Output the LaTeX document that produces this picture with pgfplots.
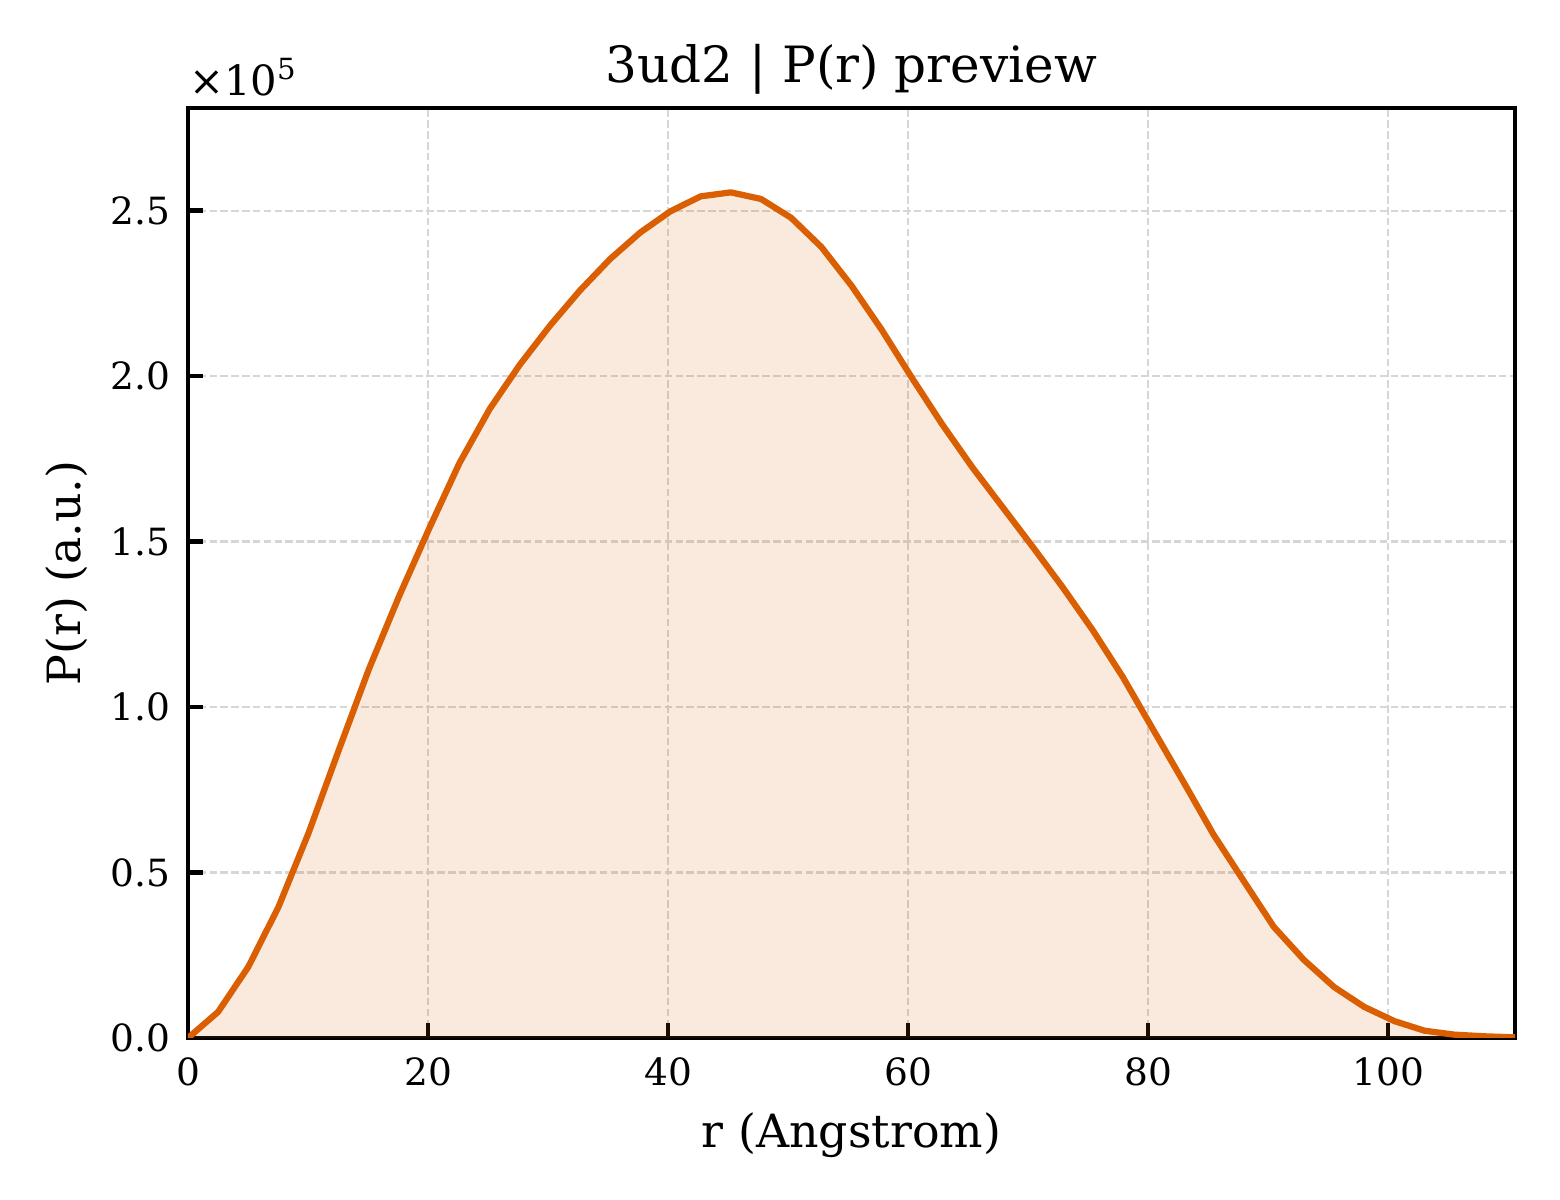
\documentclass[border=0pt]{standalone}
\usepackage{fontspec}
\setmainfont{DejaVu Serif}
\usepackage{pgfplots}
\usepackage{pgfplotstable}
\pgfplotsset{compat=1.18}

\definecolor{prline}{RGB}{217,95,2}
\definecolor{gridgray}{RGB}{214,214,214}

% P(r) read off the preview, r in Angstrom
\pgfplotstableread{
r P
0.000 0
2.513 7900
5.025 21500
7.538 39600
10.050 62000
12.563 87000
15.075 111500
17.588 133500
20.100 154000
22.613 173700
25.125 190000
27.638 203400
30.150 215200
32.663 225900
35.175 235400
37.688 243400
40.200 249800
42.713 254300
45.225 255500
47.738 253500
50.250 247800
52.763 239000
55.275 227300
57.788 214000
60.300 199500
62.813 185500
65.325 172500
67.838 160500
70.350 148500
72.863 136200
75.375 123200
77.888 109000
80.400 93200
82.913 77500
85.425 61500
87.938 47500
90.450 33600
92.963 23600
95.475 15400
97.988 9400
100.500 5100
103.013 2200
105.525 1000
108.038 500
110.550 200
}\prdata

\begin{document}
\begin{tikzpicture}
\begin{axis}[
    scale only axis,
    width=318.48pt,
    height=223.2pt,
    xmin=0, xmax=110.55,
    ymin=0, ymax=281000,
    xtick={0,20,40,60,80,100},
    ytick={0,50000,100000,150000,200000,250000},
    scaled y ticks=base 10:-5,
    ytick scale label code/.code={×10\textsuperscript{5}},
    every y tick scale label/.style={at={(rel axis cs:0,1)}, anchor=base west,
        inner sep=0pt, xshift=4.1pt, yshift=3.1pt, font=\fontsize{10}{12}\selectfont},
    /pgf/number format/assume math mode=true,
    tick label style={font=\fontsize{9}{11}\selectfont},
    xticklabel style={anchor=base, inner sep=0pt, yshift=-11.5pt},
    yticklabel style={anchor=east, inner sep=0pt, xshift=-4.0pt,
        /pgf/number format/fixed, /pgf/number format/fixed zerofill,
        /pgf/number format/precision=1},
    tick align=inside,
    xtick pos=left, ytick pos=left,
    major tick length=3.5pt,
    tick style={black, line width=1pt},
    axis line style={line width=1pt},
    grid=major,
    major grid style={gridgray, line width=0.5pt, dash pattern=on 1.8pt off 0.8pt},
    xlabel={r (Angstrom)},
    ylabel={P(r) (a.u.)},
    label style={font=\fontsize{11}{13}\selectfont},
    xlabel style={at={(axis description cs:0.5,-0.1174)}, anchor=base},
    ylabel style={at={(axis description cs:-0.0813,0.5)}, anchor=base},
    title={3ud2 | P(r) preview},
    title style={at={(axis description cs:0.5,1.0)}, anchor=base,
        font=\fontsize{12}{14}\selectfont},
]
\addplot[draw=none, fill=prline, fill opacity=0.13, forget plot]
    table[x=r, y=P] {\prdata} \closedcycle;
\addplot[prline, line width=1.5pt, line join=round]
    table[x=r, y=P] {\prdata};
\end{axis}
\pgfresetboundingbox
\path (-45.12pt,-38.88pt) rectangle (329.28pt,249.12pt);
\end{tikzpicture}
\end{document}
